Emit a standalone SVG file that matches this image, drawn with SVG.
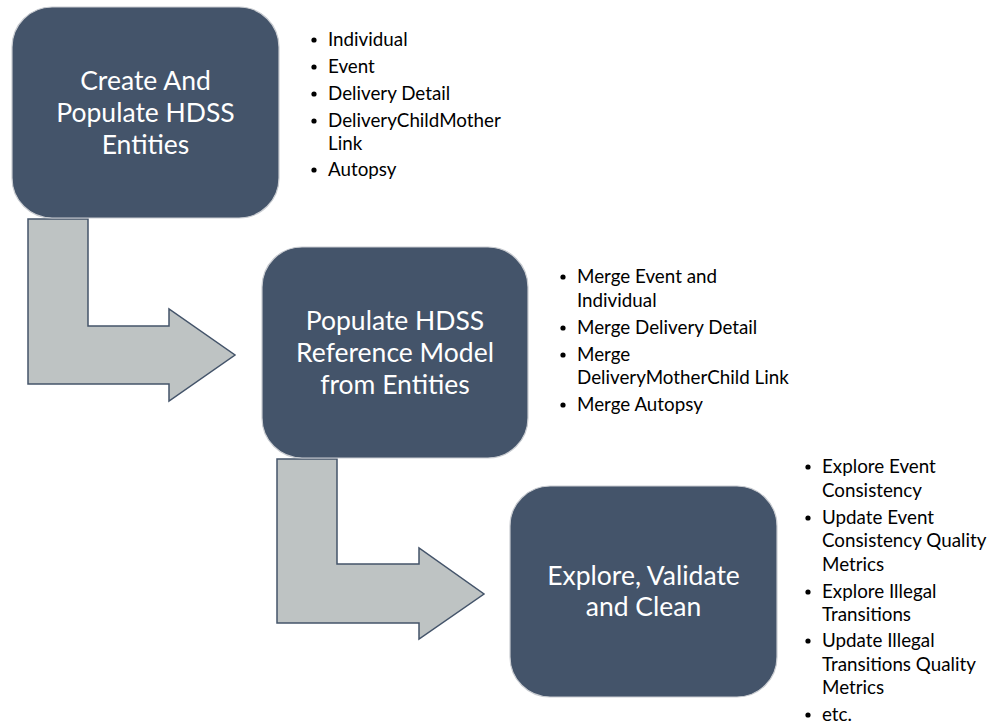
<svg xmlns="http://www.w3.org/2000/svg" width="993" height="724" viewBox="0 0 993 724">
<style>
.box{fill:#44546A;stroke:#c9ccd1;stroke-width:1.2}
.arrow{fill:#BEC3C3;stroke:#44546A;stroke-width:1.5;stroke-linejoin:miter}
.bt{font-family:Lato,"Open Sans",sans-serif;font-size:26.5px;fill:#ffffff;text-anchor:middle}
.li{font-family:Lato,"Open Sans",sans-serif;font-size:18.8px;fill:#000000}
.dot{fill:#000000}
</style>
<rect width="993" height="724" fill="#ffffff"/>
<g id="connectors">
<path class="arrow" d="M28,219 L88,219 L88,326 L169,326 L169,309 L235,355 L169,401 L169,384 L28,384 Z"/>
<path class="arrow" d="M277,459 L337,459 L337,564 L419,564 L419,548 L484,594 L419,639 L419,623 L277,623 Z"/>
</g>
<g id="node1">
<rect class="box" x="12" y="7" width="267" height="211" rx="40" ry="40"/>
<text class="bt" x="145.5" y="90">Create And</text>
<text class="bt" x="145.5" y="122">Populate HDSS</text>
<text class="bt" x="145.5" y="154">Entities</text>
</g>
<g id="list1">
<circle class="dot" cx="314" cy="40" r="2.6"/>
<text class="li" x="328" y="46">Individual</text>
<circle class="dot" cx="314" cy="67" r="2.6"/>
<text class="li" x="328" y="73">Event</text>
<circle class="dot" cx="314" cy="94" r="2.6"/>
<text class="li" x="328" y="100">Delivery Detail</text>
<circle class="dot" cx="314" cy="121" r="2.6"/>
<text class="li" x="328" y="127">DeliveryChildMother</text>
<text class="li" x="328" y="150">Link</text>
<circle class="dot" cx="314" cy="170" r="2.6"/>
<text class="li" x="328" y="176">Autopsy</text>
</g>
<g id="node2">
<rect class="box" x="262" y="247" width="266" height="211" rx="40" ry="40"/>
<text class="bt" x="395" y="330">Populate HDSS</text>
<text class="bt" x="395" y="362">Reference Model</text>
<text class="bt" x="395" y="394">from Entities</text>
</g>
<g id="list2">
<circle class="dot" cx="563" cy="277" r="2.6"/>
<text class="li" x="577" y="283">Merge Event and</text>
<text class="li" x="577" y="307">Individual</text>
<circle class="dot" cx="563" cy="328" r="2.6"/>
<text class="li" x="577" y="334">Merge Delivery Detail</text>
<circle class="dot" cx="563" cy="355" r="2.6"/>
<text class="li" x="577" y="361">Merge</text>
<text class="li" x="577" y="384">DeliveryMotherChild Link</text>
<circle class="dot" cx="563" cy="405" r="2.6"/>
<text class="li" x="577" y="411">Merge Autopsy</text>
</g>
<g id="node3">
<rect class="box" x="510" y="486" width="267" height="211" rx="40" ry="40"/>
<text class="bt" x="643.5" y="585">Explore, Validate</text>
<text class="bt" x="643.5" y="616">and Clean</text>
</g>
<g id="list3">
<circle class="dot" cx="808" cy="467" r="2.6"/>
<text class="li" x="822" y="473">Explore Event</text>
<text class="li" x="822" y="497">Consistency</text>
<circle class="dot" cx="808" cy="518" r="2.6"/>
<text class="li" x="822" y="524">Update Event</text>
<text class="li" x="822" y="547">Consistency Quality</text>
<text class="li" x="822" y="571">Metrics</text>
<circle class="dot" cx="808" cy="592" r="2.6"/>
<text class="li" x="822" y="598">Explore Illegal</text>
<text class="li" x="822" y="621">Transitions</text>
<circle class="dot" cx="808" cy="641" r="2.6"/>
<text class="li" x="822" y="647">Update Illegal</text>
<text class="li" x="822" y="671">Transitions Quality</text>
<text class="li" x="822" y="694">Metrics</text>
<circle class="dot" cx="808" cy="715" r="2.6"/>
<text class="li" x="822" y="721">etc.</text>
</g>
</svg>
